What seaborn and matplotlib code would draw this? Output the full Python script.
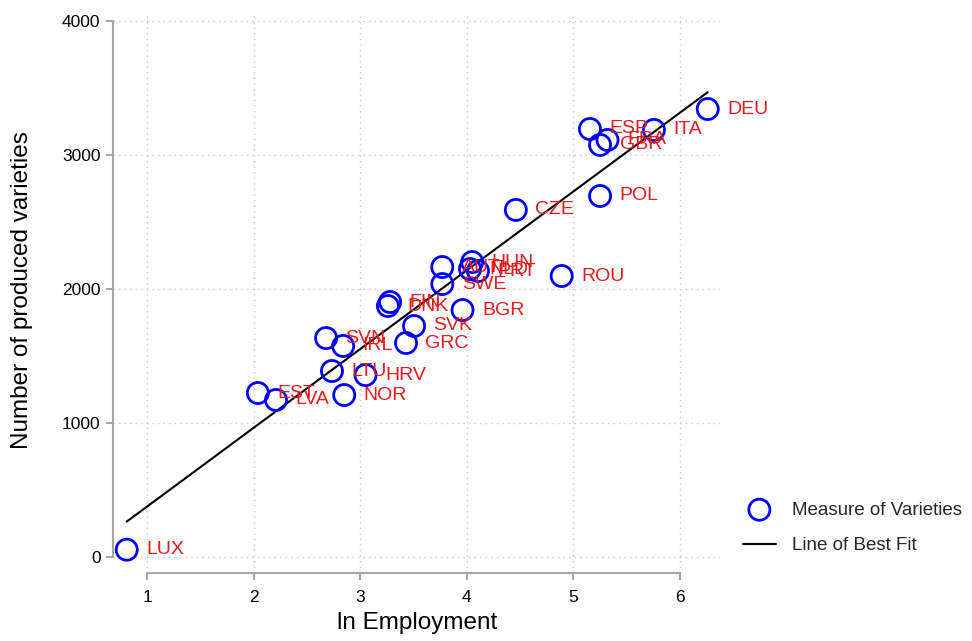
import matplotlib
matplotlib.use("Agg")
import matplotlib.pyplot as plt
import seaborn as sns
import pandas as pd

sns.set_theme(style="white")
plt.rcParams["font.family"] = ["Liberation Sans", "DejaVu Sans"]

countries = ["LUX", "EST", "LVA", "LTU", "NOR", "HRV", "SVN", "IRL", "GRC", "SVK",
             "FIN", "DNK", "SWE", "BGR", "AUT", "HUN", "NLD", "PRT", "ROU", "CZE",
             "POL", "ESP", "GBR", "FRA", "ITA", "DEU"]
ln_employment = [0.81, 2.04, 2.21, 2.735, 2.85, 3.05, 2.68, 2.84, 3.43, 3.505,
                 3.28, 3.26, 3.77, 3.96, 3.77, 4.05, 4.03, 4.105, 4.89, 4.46,
                 5.25, 5.155, 5.25, 5.32, 5.755, 6.26]
varieties = [55, 1224, 1172, 1388, 1209, 1358, 1634, 1575, 1597, 1724,
             1903, 1873, 2037, 1843, 2164, 2201, 2149, 2134, 2097, 2590,
             2694, 3194, 3075, 3112, 3187, 3343]

df = pd.DataFrame({"country": countries, "ln_emp": ln_employment, "varieties": varieties})

fig = plt.figure(figsize=(9.72, 6.41), dpi=100)
ax = fig.add_axes([113 / 972, 1 - 573 / 641, (720 - 113) / 972, (573 - 16) / 641])

sns.regplot(data=df, x="ln_emp", y="varieties", scatter=False, ci=None, color="black",
            label="Line of Best Fit", line_kws=dict(lw=1.5), ax=ax)
sns.scatterplot(data=df, x="ln_emp", y="varieties", marker="o", s=230,
                facecolor="none", edgecolor="#0000ff", linewidth=2,
                label="Measure of Varieties", ax=ax, zorder=3)

for _, r in df.iterrows():
    ax.annotate(r["country"], (r["ln_emp"], r["varieties"]), xytext=(14, 0),
                textcoords="offset points", va="center", ha="left",
                color="#e41a1c", fontsize=14, zorder=4)

ax.set_xlim(0.681, 6.375)
ax.set_ylim(-119, 4037)
ax.set_xticks([1, 2, 3, 4, 5, 6])
ax.set_yticks([0, 1000, 2000, 3000, 4000])
ax.grid(True, color="#c8c8c8", linestyle=(0, (1, 3)), lw=1)
for s in ["top", "right"]:
    ax.spines[s].set_visible(False)
ax.spines["left"].set_bounds(0, 4000)
ax.spines["bottom"].set_bounds(1, 6)
for s in ["left", "bottom"]:
    ax.spines[s].set_color("#a6a6a6")
    ax.spines[s].set_linewidth(1.5)
ax.tick_params(axis="both", direction="out", length=5, width=1.5, color="#a6a6a6",
               labelsize=12.5, labelcolor="black", pad=4, left=True, bottom=True)
ax.tick_params(axis="x", pad=7)
ax.set_xlabel("ln Employment", fontsize=17.5, color="black")
ax.set_ylabel("Number of produced varieties", fontsize=17.5, color="black")
ax.xaxis.set_label_coords(0.5008, (573 - 612) / 557)
ax.yaxis.set_label_coords((33 - 113) / 607, (573 - 290) / 557)

handles, labels = ax.get_legend_handles_labels()
ax.get_legend().remove()
order = [labels.index("Measure of Varieties"), labels.index("Line of Best Fit")]
fig.legend([handles[i] for i in order], [labels[i] for i in order],
           loc="upper left", bbox_to_anchor=(735 / 972, 1 - 494 / 641),
           frameon=False, fontsize=13.5, handlelength=1.8, labelspacing=1.0,
           borderaxespad=0, handletextpad=0.85)

fig.savefig("out.png", dpi=100)
